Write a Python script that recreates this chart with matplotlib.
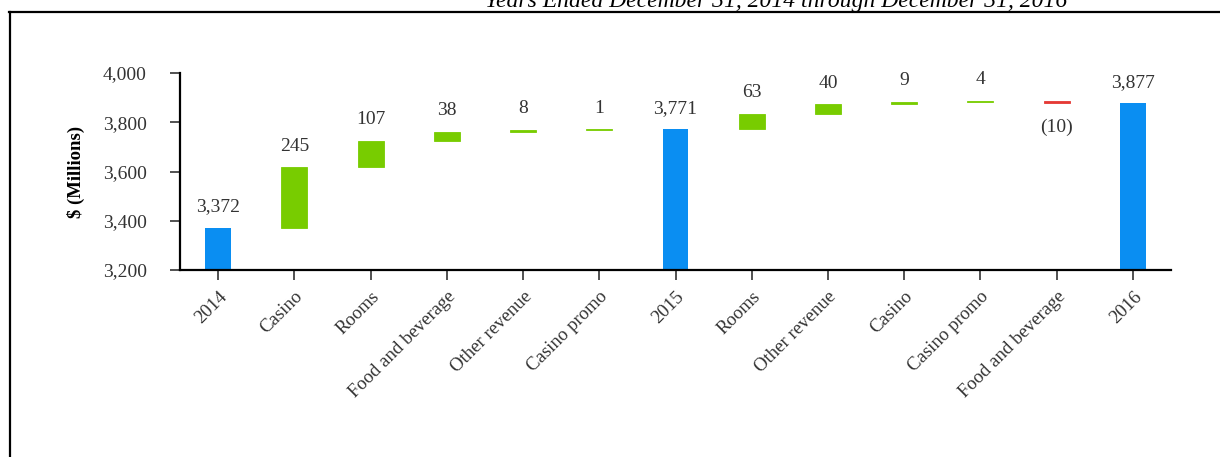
import numpy as np
import matplotlib
matplotlib.use('Agg')
import matplotlib.pyplot as plt
from matplotlib.lines import Line2D

#%% data
categories = ['2014', 'Casino', 'Rooms', 'Food and beverage', 'Other revenue',
              'Casino promo', '2015', 'Rooms', 'Other revenue', 'Casino',
              'Casino promo', 'Food and beverage', '2016']
# None -> total bar, number -> change
totals = [3372, None, None, None, None, None, 3771, None, None, None, None, None, 3877]
changes = [None, 245, 107, 38, 8, 1, None, 63, 40, 9, 4, -10, None]
yticks = [3200, 3400, 3600, 3800, 4000]

BLUE = '#0a8ef2'
GREEN = '#78cc00'
RED = '#e53935'

plt.rcParams['font.family'] = ['Liberation Serif', 'DejaVu Serif']

#%% figure
W, H = 1220, 457
fig = plt.figure(figsize=(W/100, H/100), dpi=100)
ax = fig.add_axes([180/W, 1-270/H, (1171-180)/W, (270-73)/H])

x = np.arange(len(categories))
run = 0
for i in range(len(categories)):
    if totals[i] is not None:
        run = totals[i]
        ax.bar(x[i], run - 3200, bottom=3200, width=0.34, color=BLUE, lw=0)
        ax.annotate('{:,}'.format(run), (x[i], run), xytext=(0, 9),
                    textcoords='offset points', ha='center', va='bottom',
                    fontsize=14, color='#333333')
    else:
        d = changes[i]
        lo = run if d > 0 else run + d
        col = GREEN if d > 0 else RED
        ax.bar(x[i], abs(d), bottom=lo, width=0.34, color=col,
               edgecolor=col, lw=0.6)
        if d > 0:
            ax.annotate(str(d), (x[i], run + d), xytext=(0, 9),
                        textcoords='offset points', ha='center', va='bottom',
                        fontsize=14, color='#333333')
        else:
            ax.annotate('({})'.format(-d), (x[i], run + d), xytext=(0, -11),
                        textcoords='offset points', ha='center', va='top',
                        fontsize=14, color='#333333')
        run += d

ax.set_xlim(-0.5, len(categories) - 0.5)
ax.set_ylim(3200, 4000)
ax.set_yticks(yticks)
ax.set_yticklabels(['{:,}'.format(v) for v in yticks])
ax.set_xticks(x)
ax.set_xticklabels(categories, rotation=45, ha='right', rotation_mode='anchor')

for s in ['top', 'right']:
    ax.spines[s].set_visible(False)
for s in ['left', 'bottom']:
    ax.spines[s].set_linewidth(1.6)
    ax.spines[s].set_color('black')

ax.tick_params(axis='y', length=7, width=1.2, color='#333333', pad=17,
               labelsize=14, labelcolor='#333333')
ax.tick_params(axis='x', length=7, width=1.2, color='#333333', pad=6,
               labelsize=13.5, labelcolor='#333333')

ax.set_ylabel('$ (Millions)', fontsize=13.5, fontweight='bold', labelpad=13)

#%% frame + title
fig.add_artist(Line2D([9.5/W, 9.5/W], [0, 1-12/H], color='black', lw=1.6,
                      transform=fig.transFigure))
fig.add_artist(Line2D([9/W, 1], [1-12/H, 1-12/H], color='black', lw=1.6,
                      transform=fig.transFigure))
fig.text(776/W, 1-7/H, 'Years Ended December 31, 2014 through December 31, 2016',
         ha='center', va='baseline', fontsize=17, style='italic')

fig.savefig('out.png', dpi=100)
